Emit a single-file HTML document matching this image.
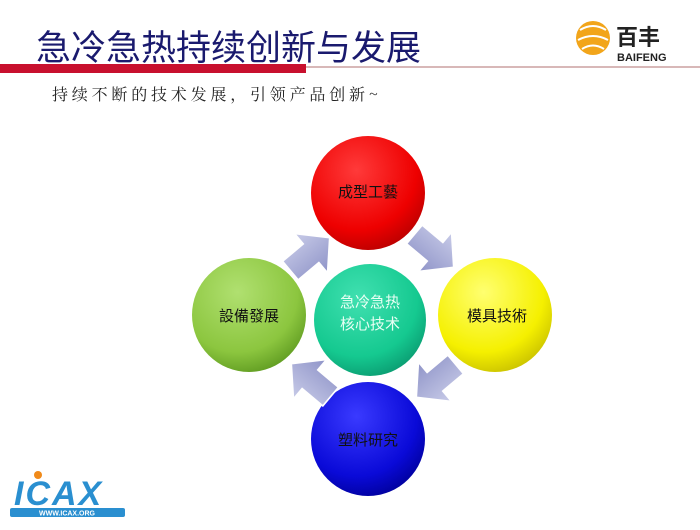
<!DOCTYPE html>
<html><head><meta charset="utf-8"><style>
body{margin:0;width:700px;height:525px;background:#fff;overflow:hidden;font-family:"Liberation Sans","Noto Sans CJK SC",sans-serif;}
</style></head><body>
<svg width="700" height="525" xmlns="http://www.w3.org/2000/svg">
<defs>
<radialGradient id="gr" cx="40%" cy="30%" r="75%"><stop offset="0" stop-color="#ff3a3a"/><stop offset="0.7" stop-color="#ee0000"/><stop offset="1" stop-color="#b80000"/></radialGradient>
<radialGradient id="gy" cx="40%" cy="30%" r="75%"><stop offset="0" stop-color="#ffff70"/><stop offset="0.7" stop-color="#f5f000"/><stop offset="1" stop-color="#c8c000"/></radialGradient>
<radialGradient id="gb" cx="40%" cy="30%" r="75%"><stop offset="0" stop-color="#3a3aff"/><stop offset="0.7" stop-color="#0a0ad8"/><stop offset="1" stop-color="#00009a"/></radialGradient>
<radialGradient id="gg" cx="40%" cy="30%" r="75%"><stop offset="0" stop-color="#b0e070"/><stop offset="0.7" stop-color="#8cc63f"/><stop offset="1" stop-color="#5e9a20"/></radialGradient>
<radialGradient id="gt" cx="40%" cy="30%" r="75%"><stop offset="0" stop-color="#40e0b0"/><stop offset="0.7" stop-color="#15c990"/><stop offset="1" stop-color="#0a9a70"/></radialGradient>
<linearGradient id="ga" x1="0" y1="0" x2="0" y2="1"><stop offset="0" stop-color="#c8cbe8"/><stop offset="1" stop-color="#8f94c8"/></linearGradient>
<g id="arr"><polygon points="-18,-9 2,-9 2,-19 20,0 2,19 2,9 -18,9" fill="url(#ga)" stroke="#fff" stroke-width="1.2"/></g>
</defs>
<rect x="0" y="64" width="306" height="9" fill="#c8102e"/>
<rect x="306" y="66" width="394" height="2" fill="#d8b8b8"/>
<text x="36" y="60" font-size="35" fill="#1a1a6e">急冷急热持续创新与发展</text>
<circle cx="593" cy="38" r="17" fill="#f2a51a"/>
<path d="M580,30 Q593,22 606,30 M578,40 Q593,32 608,40 M582,49 Q593,42 604,49" stroke="#fff" stroke-width="2" fill="none"/>
<text x="616" y="45" font-size="22" font-weight="bold" fill="#222">百丰</text>
<text x="617" y="61" font-size="11" font-weight="bold" fill="#222">BAIFENG</text>
<text x="52" y="100" font-size="16" fill="#222" font-family="'Noto Serif CJK SC',serif" letter-spacing="3.8">持续不断的技术发展，引领产品创新~</text>
<circle cx="368" cy="193" r="57" fill="url(#gr)"/>
<circle cx="495" cy="315" r="57" fill="url(#gy)"/>
<circle cx="368" cy="439" r="57" fill="url(#gb)"/>
<circle cx="249" cy="315" r="57" fill="url(#gg)"/>
<circle cx="370" cy="320" r="56" fill="url(#gt)"/>
<use href="#arr" transform="translate(309,255) rotate(-40) scale(1.35)"/>
<use href="#arr" transform="translate(433,250) rotate(40) scale(1.35)"/>
<use href="#arr" transform="translate(437,380) rotate(140) scale(1.35)"/>
<use href="#arr" transform="translate(312,381) rotate(-140) scale(1.35)"/>
<g font-size="15" text-anchor="middle" fill="#111">
<text x="368" y="197">成型工藝</text>
<text x="497" y="321">模具技術</text>
<text x="368" y="445">塑料研究</text>
<text x="249" y="321">設備發展</text>
</g>
<g font-size="15" text-anchor="middle" fill="#e8fff4">
<text x="370" y="307">急冷急热</text>
<text x="370" y="329">核心技术</text>
</g>
<text x="14" y="505" font-size="34" font-style="italic" font-weight="bold" fill="#2a8fd0" letter-spacing="2">ICAX</text>
<circle cx="38" cy="475" r="4" fill="#f08a1a"/>
<rect x="10" y="508" width="115" height="9" rx="2" fill="#2a8fd0"/>
<text x="67" y="515.5" font-size="7" font-weight="bold" text-anchor="middle" fill="#fff">WWW.ICAX.ORG</text>
</svg>
</body></html>
